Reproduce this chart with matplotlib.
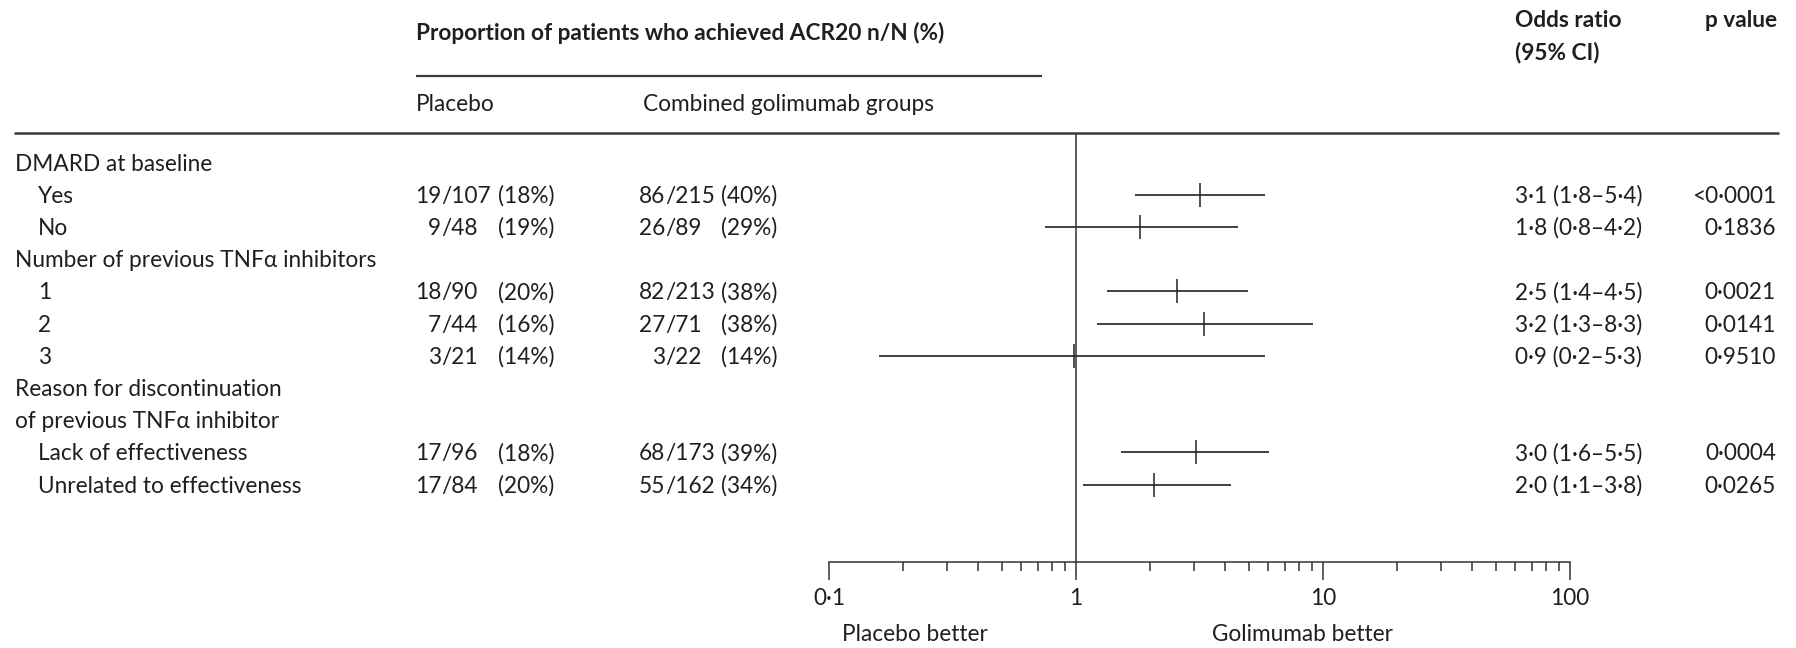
import matplotlib.pyplot as plt
from matplotlib.ticker import FixedLocator, NullFormatter

plt.rcParams['font.family'] = ['Lato', 'DejaVu Sans']

# row labels, indent 1 = sub item
row_labels = ["DMARD at baseline", "Yes", "No", "Number of previous TNF\u03b1 inhibitors",
              "1", "2", "3", "Reason for discontinuation", "of previous TNF\u03b1 inhibitor",
              "Lack of effectiveness", "Unrelated to effectiveness"]
row_indent = [0, 1, 1, 0, 1, 1, 1, 0, 0, 1, 1]
data_rows = [1, 2, 4, 5, 6, 9, 10]

placebo_n = [19, 9, 18, 7, 3, 17, 17]
placebo_N = [107, 48, 90, 44, 21, 96, 84]
placebo_pct = [18, 19, 20, 16, 14, 18, 20]
golim_n = [86, 26, 82, 27, 3, 68, 55]
golim_N = [215, 89, 213, 71, 22, 173, 162]
golim_pct = [40, 29, 38, 38, 14, 39, 34]

# odds ratios as printed
or_est = [3.1, 1.8, 2.5, 3.2, 0.9, 3.0, 2.0]
or_lo = [1.8, 0.8, 1.4, 1.3, 0.2, 1.6, 1.1]
or_hi = [5.4, 4.2, 4.5, 8.3, 5.3, 5.5, 3.8]
p_values = ["<0\u00b70001", "0\u00b71836", "0\u00b70021", "0\u00b70141", "0\u00b79510", "0\u00b70004", "0\u00b70265"]

plot_or = [3.19, 1.82, 2.56, 3.30, 0.98, 3.07, 2.06]
plot_lo = [1.74, 0.75, 1.33, 1.22, 0.16, 1.52, 1.07]
plot_hi = [5.85, 4.54, 4.95, 9.15, 5.85, 6.04, 4.26]

major_ticks = [0.1, 1, 10, 100]
major_labels = ["0\u00b71", "1", "10", "100"]

W, H = 1796, 648
INK = '#1f1f1f'
FS = 16.3


def fmt(v):
    return f"{v:.1f}".replace(".", "\u00b7")


fig = plt.figure(figsize=(W / 100, H / 100), dpi=100)
ax = fig.add_axes([0, 0, 1, 1])
ax.set_xlim(0, W)
ax.set_ylim(H, 0)
ax.axis('off')

# header
ax.text(416, 40, "Proportion of patients who achieved ACR20 n/N (%)", fontsize=FS,
        fontweight='bold', color=INK, va='baseline')
ax.plot([416, 1042], [76, 76], color='#3a3a3a', lw=1.6, solid_capstyle='butt')
ax.text(416, 111, "Placebo", fontsize=FS, color=INK, va='baseline')
ax.text(643, 111, "Combined golimumab groups", fontsize=FS, color=INK, va='baseline')
ax.text(1515, 27, "Odds ratio", fontsize=FS, fontweight='bold', color=INK, va='baseline')
ax.text(1515, 59, "(95% CI)", fontsize=FS, fontweight='bold', color=INK, va='baseline')
ax.text(1777, 27, "p value", fontsize=FS, fontweight='bold', color=INK, va='baseline', ha='right')
ax.plot([14, 1779], [133, 133], color='#3a3a3a', lw=1.8, solid_capstyle='butt')

row_y = [162.6 + 32.2 * i for i in range(len(row_labels))]

for lab, ind, y in zip(row_labels, row_indent, row_y):
    ax.text(15 + 23 * ind, y + 8, lab, fontsize=FS, color=INK, va='baseline')

# n/N columns line up on the slash
for k, r in enumerate(data_rows):
    yb = row_y[r] + 8
    ax.text(441, yb, str(placebo_n[k]), fontsize=FS, color=INK, va='baseline', ha='right')
    ax.text(441, yb, f"/{placebo_N[k]}", fontsize=FS, color=INK, va='baseline')
    ax.text(498, yb, f"({placebo_pct[k]}%)", fontsize=FS, color=INK, va='baseline')
    ax.text(665, yb, str(golim_n[k]), fontsize=FS, color=INK, va='baseline', ha='right')
    ax.text(665, yb, f"/{golim_N[k]}", fontsize=FS, color=INK, va='baseline')
    ax.text(721, yb, f"({golim_pct[k]}%)", fontsize=FS, color=INK, va='baseline')
    ax.text(1515, yb, f"{fmt(or_est[k])} ({fmt(or_lo[k])}\u2013{fmt(or_hi[k])})",
            fontsize=FS, color=INK, va='baseline')
    ax.text(1776, yb, p_values[k], fontsize=FS, color=INK, va='baseline', ha='right')

ax.text(915, 641, "Placebo better", fontsize=FS, color=INK, va='baseline', ha='center')
ax.text(1303, 641, "Golimumab better", fontsize=FS, color=INK, va='baseline', ha='center')

# forest plot, y in pixel units
x0, x1 = 829, 1570
fp = fig.add_axes([x0 / W, 0, (x1 - x0) / W, 1])
fp.patch.set_visible(False)
fp.set_xscale('log')
fp.set_xlim(0.1, 100)
fp.set_ylim(H, 0)
for s in ['top', 'left', 'right']:
    fp.spines[s].set_visible(False)
fp.spines['bottom'].set_position(('data', 562))
fp.spines['bottom'].set_color('#333333')
fp.spines['bottom'].set_linewidth(1.1)
fp.set_yticks([])
fp.xaxis.set_major_locator(FixedLocator(major_ticks))
fp.set_xticklabels(major_labels)
minor = [m * d for d in [0.1, 1, 10] for m in range(2, 10)]
fp.xaxis.set_minor_locator(FixedLocator(minor))
fp.xaxis.set_minor_formatter(NullFormatter())
fp.tick_params(axis='x', which='major', direction='out', length=13, width=1.1,
               color='#333333', labelsize=FS, labelcolor=INK, pad=6)
fp.tick_params(axis='x', which='minor', direction='out', length=6.5, width=1.1, color='#333333')

fp.vlines(1, 133, 562, color='#333333', lw=1.1)
for k, r in enumerate(data_rows):
    fp.hlines(row_y[r], plot_lo[k], plot_hi[k], color='#333333', lw=1.3)
    fp.plot(plot_or[k], row_y[r], marker='|', markersize=17, mew=1.1, color='#222222')

fig.savefig('out.png', dpi=100)
